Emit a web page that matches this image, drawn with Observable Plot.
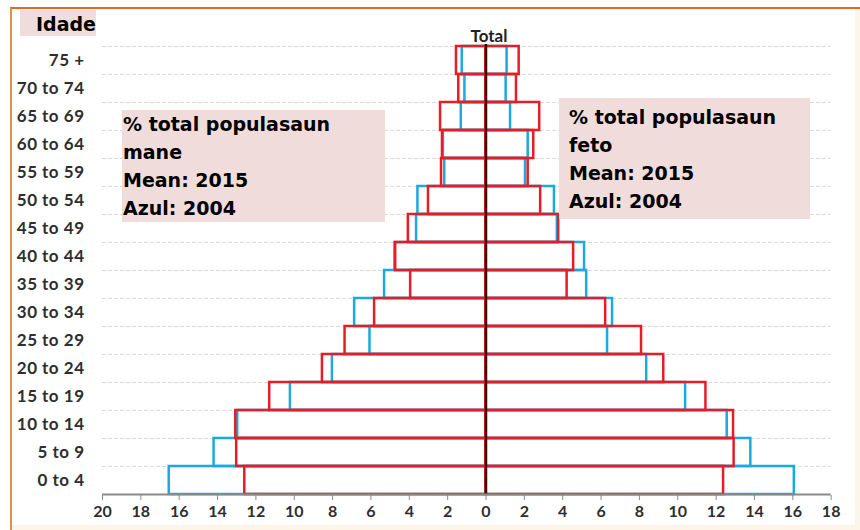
<!DOCTYPE html>
<html><head><meta charset="utf-8">
<script src="https://cdn.jsdelivr.net/npm/d3@7"></script>
<script src="https://cdn.jsdelivr.net/npm/@observablehq/plot@0.6"></script>
<style>
body{margin:0;background:#fff;}
#wrap{position:relative;width:860px;height:530px;overflow:hidden;}
#frame{position:absolute;left:10px;top:7px;width:850px;height:523px;background:#fdf5e8;border-top:2px solid #e2691c;border-left:2px solid #d8914e;box-sizing:border-box;}
#inner{position:absolute;left:12px;top:9px;width:843px;height:516px;background:#fff;}
#chart{position:absolute;left:0;top:0;}
#chart g[aria-label="y-axis tick label"] text{letter-spacing:0.5px;}
.box{position:absolute;background:#f1dcdc;font-family:"DejaVu Sans";font-weight:bold;font-size:19px;line-height:28px;color:#000;white-space:nowrap;box-sizing:border-box;}
</style>
</head><body>
<div id="wrap">
  <div id="frame"></div>
  <div id="inner"></div>
  <div id="chart"></div>
  <div class="box" style="left:20px;top:10px;width:76px;height:26px;line-height:26px;text-align:right;padding-top:1px;">Idade</div>
  <div class="box" style="left:122px;top:110px;width:263px;height:112px;padding-left:1px;">% total populasaun<br>mane<br>Mean: 2015<br>Azul: 2004</div>
  <div class="box" style="left:559px;top:98px;width:251px;height:121px;padding:5px 0 0 10px;">% total populasaun<br>feto<br>Mean: 2015<br>Azul: 2004</div>
</div>
<script>
// Age groups, top to bottom
const ages = ["75 +","70 to 74","65 to 69","60 to 64","55 to 59","50 to 54","45 to 49","40 to 44","35 to 39","30 to 34","25 to 29","20 to 24","15 to 19","10 to 14","5 to 9","0 to 4"];
// % of total population, same order as ages
const mane2015 = [1.54,1.42,2.37,2.27,2.32,3.00,4.05,4.71,3.93,5.81,7.35,8.53,11.28,13.05,13.00,12.58];
const mane2004 = [1.24,1.10,1.29,2.22,2.15,3.55,3.62,4.75,5.29,6.85,6.05,8.01,10.20,12.95,14.18,16.52];
const feto2015 = [1.73,1.59,2.80,2.49,2.20,2.85,3.79,4.57,4.23,6.24,8.11,9.27,11.47,12.91,12.94,12.39];
const feto2004 = [1.10,1.05,1.28,2.20,2.06,3.57,3.72,5.14,5.25,6.60,6.34,8.38,10.41,12.58,13.81,16.08];
const xTicks = [-20,-18,-16,-14,-12,-10,-8,-6,-4,-2,0,2,4,6,8,10,12,14,16,18];

const rows = (vals, sign, year) => ages.map((a, i) => ({age: a, v: sign * vals[i], year}));
const blue = [...rows(mane2004, -1, 2004), ...rows(feto2004, 1, 2004)];
const red = [...rows(mane2015, -1, 2015), ...rows(feto2015, 1, 2015)];

const W = 860, H = 530, mT = 44, mB = 35;
const half = (H - mT - mB) / ages.length / 2;

const chart = Plot.plot({
  width: W, height: H,
  marginLeft: 102, marginRight: 29.35, marginTop: mT, marginBottom: mB,
  style: {background: "transparent", color: "#2e2e2e", fontFamily: "Lato", overflow: "visible"},
  x: {domain: [-20, 18]},
  y: {domain: ages, padding: 0},
  marks: [
    Plot.ruleY(ages, {y: d => d, dy: -half, stroke: "#d8d8d8", strokeDasharray: "4,2", strokeWidth: 1}),
    Plot.barX(blue, {y: "age", x: "v", fill: "none", stroke: "#1ba9e1", strokeWidth: 2.5}),
    Plot.barX(red, {y: "age", x: "v", fill: "none", stroke: "#e41e26", strokeWidth: 2.5}),
    Plot.ruleX([0], {stroke: "#3a0a0a", strokeWidth: 2.5}),
    Plot.ruleY([ages[ages.length - 1]], {dy: half, stroke: "#8a8a8a", strokeWidth: 2}),
    Plot.axisX({ticks: xTicks, tickFormat: d => Math.abs(d), tickSize: 5, tickPadding: 5, stroke: "#8a8a8a", fontSize: 16, fontWeight: "bold", label: null}),
    Plot.axisY({tickSize: 0, tickPadding: 18, fontSize: 17, fontWeight: "bold", label: null}),
    Plot.text(["Total"], {x: 0, frameAnchor: "top", dy: -15, dx: 3, fontSize: 17, fontWeight: "bold", fill: "#222"})
  ]
});
document.getElementById("chart").appendChild(chart);
</script>
</body></html>
